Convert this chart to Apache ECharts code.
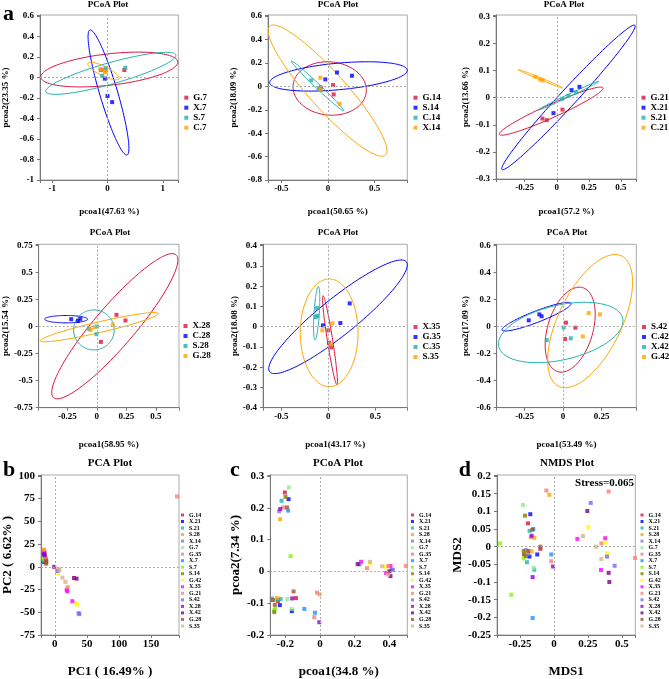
<!DOCTYPE html>
<html><head><meta charset="utf-8">
<script src="https://cdn.jsdelivr.net/npm/echarts@6/dist/echarts.min.js"></script>
<style>html,body{margin:0;padding:0;background:#fff}#c{width:669px;height:679px}</style>
</head><body><div id="c"></div>
<script>
// ---------------- DATA ----------------
const groups7 = ['G.7','X.7','S.7','C.7'];
const pts7 = [
 ['G.7',0.305,0.073],['G.7',-0.12,0.075],['G.7',-0.04,0.07],
 ['X.7',-0.048,-0.011],['X.7',0.0,-0.18],['X.7',0.084,-0.24],
 ['S.7',0.323,0.096],['S.7',-0.096,0.018],['S.7',-0.036,0.089],
 ['C.7',-0.126,0.083],['C.7',-0.048,0.063],['C.7',-0.036,0.05]
];
const ell7 = [
 ['G.7',0.033,0.078,1.237,0.076,0.032,-0.152],
 ['X.7',0.018,-0.146,0.335,-0.61,0.155,0.025],
 ['S.7',0.06,0.041,1.174,0.179,0.051,-0.100],
 ['C.7',-0.072,0.063,0.281,-0.075,-0.037,-0.041]
];

const groups14 = ['G.14','S.14','C.14','X.14'];
const pts14 = [
 ['G.14',0.054,0.011],['G.14',0.061,-0.069],['G.14',-0.079,-0.009],
 ['S.14',0.096,0.119],['S.14',0.257,0.091],['S.14',-0.029,0.06],
 ['C.14',-0.179,0.051],['C.14',-0.096,-0.017],['C.14',-0.08,-0.03],
 ['X.14',-0.082,0.074],['X.14',-0.082,-0.026],['X.14',0.125,-0.149]
];
const ell14 = [
 ['G.14',0.018,-0.018,0.393,-0.014,0,-0.228],
 ['S.14',0.1125,0.085,0.7375,0.054,0.013,-0.113],
 ['C.14',-0.1125,0.004,0.28,-0.212,0.017,0.0145],
 ['X.14',-0.005,-0.036,0.62,-0.551,0.146,0.104]
];

const groups21 = ['G.21','X.21','S.21','C.21'];
const pts21 = [
 ['G.21',-0.112,-0.077],['G.21',-0.078,-0.083],['G.21',0.044,-0.044],
 ['X.21',-0.026,-0.057],['X.21',0.115,0.028],['X.21',0.177,0.04],
 ['S.21',0.04,-0.004],['S.21',0.09,0.007],['S.21',0.15,0.02],
 ['C.21',-0.167,0.077],['C.21',-0.128,0.067],['C.21',-0.109,0.064]
];
const ell21 = [
 ['G.21',-0.044,-0.0497,0.404,0.0859,0.0214,-0.0223],
 ['X.21',0.091,0.001,0.518,0.266,0.048,-0.0207],
 ['S.21',0.092,0.0074,0.236,0.053,0.0044,-0.0044],
 ['C.21',-0.128,0.0699,0.174,-0.0337,-0.003,-0.0034]
];

const groups28 = ['X.28','C.28','S.28','G.28'];
const pts28 = [
 ['X.28',0.166,0.108],['X.28',0.242,0.056],['X.28',0.034,-0.142],
 ['C.28',-0.217,0.068],['C.28',-0.16,0.052],['C.28',-0.14,0.071],
 ['S.28',-0.065,-0.022],['S.28',0.0,0.0],['S.28',-0.003,-0.071],
 ['G.28',-0.053,-0.031],['G.28',-0.02,-0.006],['G.28',0.135,0.0185]
];
const ell28 = [
 ['X.28',0.152,0.003,0.518,0.66,0.128,-0.121],
 ['C.28',-0.26,0.068,0.1815,0,0,-0.034],
 ['S.28',-0.025,-0.031,0.172,0,0,-0.185],
 ['G.28',0.021,-0.006,0.5,0.1265,0.0101,-0.048]
];

const groups35 = ['X.35','G.35','C.35','S.35'];
const pts35 = [
 ['X.35',0.0,-0.018],['X.35',0.007,-0.079],['X.35',0.032,-0.102],
 ['G.35',-0.057,0.0066],['G.35',0.128,0.018],['G.35',0.227,0.115],
 ['C.35',-0.12,0.092],['C.35',-0.135,0.048],['C.35',-0.117,0.054],
 ['S.35',-0.064,-0.018],['S.35',0.043,0.0165],['S.35',0.028,-0.087]
];
const ell35 = [
 ['X.35',0.018,-0.0675,0.0745,-0.2206,0.028,0.002],
 ['G.35',0.103,0.049,0.727,0.2716,0.122,-0.0705],
 ['C.35',-0.124,0.0658,0.0177,0.1317,0.028,0],
 ['S.35',0.009,-0.030,0.307,0,0,-0.266]
];

const groups42 = ['S.42','C.42','X.42','G.42'];
const pts42 = [
 ['S.42',0.019,0.0296],['S.42',0.08,-0.0074],['S.42',0.013,-0.091],
 ['C.42',-0.223,0.047],['C.42',-0.154,0.091],['C.42',-0.139,0.077],
 ['X.42',0.004,-0.0074],['X.42',0.05,-0.086],['X.42',-0.106,-0.099],
 ['G.42',0.167,0.101],['G.42',0.24,0.091],['G.42',0.128,-0.072]
];
const ell42 = [
 ['S.42',0.0465,-0.022,0.081,0.311,0.141,-0.048],
 ['C.42',-0.172,0.074,0.224,0.0988,0.0132,-0.039],
 ['X.42',-0.015,-0.043,0.4026,0.105,0.0396,-0.1975],
 ['G.42',0.176,0.041,0.2,0.485,0.19,-0.09]
];

const groupsAll = ['G.14','X.21','S.21','S.28','X.14','G.7','G.35','X.7','S.7','S.14','G.42','X.35','G.21','S.42','X.28','X.42','G.28','S.35'];

const ptsPCA = [
 ['G.14',-17.5,8],['G.14',-16.8,6],['G.14',-17.2,10],
 ['X.21',-17.8,7],['X.21',-17,5.5],['X.21',-16.5,8.5],
 ['S.21',-17.5,9],['S.21',-16,7],['S.21',-17.8,11],
 ['S.28',-17,19],['S.28',-17.2,17.5],['S.28',-16.5,15],
 ['X.14',-17.2,12],['X.14',-16.8,10.5],['X.14',-17.6,9.5],
 ['G.7',-16.5,12],['G.7',-17,14],['G.7',-16,11],
 ['G.35',190.5,77.4],['G.35',-15.5,15.5],['G.35',-16.6,16.8],
 ['X.7',-17.8,8.5],['X.7',-17.2,6.5],['X.7',-16.8,7.5],
 ['S.7',-16.8,9],['S.7',-17.3,10.5],['S.7',-16.2,8],
 ['S.14',-13.2,6.5],['S.14',-13.8,7.5],['S.14',-14,8.8],
 ['G.42',5,-7.6],['G.42',33.4,-40.5],['G.42',34.8,-41.5],
 ['X.35',18.5,-25.3],['X.35',27.2,-37.8],['X.35',19.5,-27],
 ['G.21',6,-2.8],['G.21',20,-22.5],['G.21',-14.5,10],
 ['S.42',4,-4.6],['S.42',37,-51],['S.42',38.2,-52],
 ['X.28',-17.2,13.5],['X.28',-16.8,14.5],['X.28',-15.8,12.8],
 ['X.42',-1,0],['X.42',29.8,-12.3],['X.42',33.9,-13.0],
 ['G.28',-14,5],['G.28',-13.5,3.5],['G.28',-13.8,6.2],
 ['S.35',11.8,-11.9],['S.35',16.4,-16.6],['S.35',7,-3.5]
];

const ptsPCoA = [
 ['G.14',-0.202,0.248],['G.14',-0.242,-0.093],['G.14',-0.138,-0.084],
 ['X.21',-0.181,0.227],['X.21',-0.231,-0.106],['X.21',-0.162,-0.125],
 ['S.21',-0.221,0.222],['S.21',-0.227,-0.087],['S.21',-0.245,-0.09],
 ['S.28',-0.229,0.164],['S.28',-0.248,-0.084],['S.28',-0.002,-0.072],
 ['X.14',-0.235,0.189],['X.14',-0.277,-0.085],['X.14',-0.27,-0.09],
 ['G.7',-0.179,0.264],['G.7',-0.188,-0.087],['G.7',-0.163,-0.118],
 ['G.35',-0.212,0.201],['G.35',-0.017,-0.067],['G.35',-0.033,-0.144],
 ['X.7',-0.183,0.191],['X.7',-0.09,-0.118],['X.7',-0.029,-0.13],
 ['S.7',-0.169,0.048],['S.7',-0.263,-0.122],['S.7',-0.258,-0.115],
 ['S.14',-0.198,0.234],['S.14',-0.273,-0.09],['S.14',-0.263,-0.128],
 ['G.42',0.29,0.025],['G.42',0.395,0.0],['G.42',0.38,0.015],
 ['X.35',0.237,0.03],['X.35',0.406,0.017],['X.35',0.381,-0.005],
 ['G.21',0.271,0.01],['G.21',0.394,0.017],['G.21',0.494,0.017],
 ['S.42',0.228,0.022],['S.42',0.412,0.005],['S.42',0.42,0.005],
 ['X.28',-0.229,0.196],['X.28',-0.16,-0.085],['X.28',-0.004,-0.16],
 ['X.42',0.217,0.023],['X.42',0.406,-0.015],['X.42',0.40,0.0],
 ['G.28',-0.19,0.201],['G.28',-0.152,-0.063],['G.28',-0.26,-0.105],
 ['S.35',0.288,0.03],['S.35',0.358,0.016],['S.35',0.392,-0.01]
];

const ptsNMDS = [
 ['G.14',-0.191,0.066],['G.14',-0.1,-0.006],['G.14',-0.22,-0.022],
 ['X.21',-0.174,0.092],['X.21',-0.123,-0.022],['X.21',-0.18,-0.028],
 ['S.21',-0.179,0.045],['S.21',-0.199,-0.044],['S.21',-0.145,-0.065],
 ['S.28',-0.145,0.025],['S.28',-0.034,0.147],['S.28',-0.165,-0.013],
 ['X.14',-0.206,-0.01],['X.14',-0.2,-0.012],['X.14',-0.19,-0.02],
 ['G.7',-0.228,0.118],['G.7',-0.2,-0.013],['G.7',-0.15,-0.06],
 ['G.35',-0.17,0.027],['G.35',-0.056,0.159],['G.35',-0.02,-0.041],
 ['X.7',-0.152,0.05],['X.7',-0.02,-0.022],['X.7',-0.157,-0.202],
 ['S.7',-0.397,0.009],['S.7',-0.223,-0.033],['S.7',-0.314,-0.136],
 ['S.14',-0.213,0.088],['S.14',-0.223,-0.012],['S.14',-0.206,-0.027],
 ['G.42',0.252,0.056],['G.42',0.38,0.012],['G.42',0.39,-0.018],
 ['X.35',0.172,0.022],['X.35',0.377,0.024],['X.35',0.346,-0.066],
 ['G.21',0.402,0.156],['G.21',0.348,0.009],['G.21',0.596,-0.032],
 ['S.42',0.27,0.124],['S.42',0.39,-0.028],['S.42',0.446,-0.054],
 ['X.28',-0.164,0.031],['X.28',-0.157,-0.086],['X.28',-0.007,-0.056],
 ['X.42',0.245,0.101],['X.42',0.402,-0.074],['X.42',0.407,-0.1],
 ['G.28',-0.159,0.048],['G.28',-0.1,0.0],['G.28',-0.19,-0.012],
 ['S.35',0.213,0.03],['S.35',0.309,0.0],['S.35',0.348,-0.035]
];

// ---------------- STYLE ----------------
const FONT = '"Liberation Serif","Times New Roman",serif';
const C4 = ['#DC143C','#0000FF','#20B2AA','#FFA500'];
const C18 = {
 'G.14':'#DC143C','X.21':'#0000FF','S.21':'#20B2AA','S.28':'#FFA500','X.14':'#9370DB',
 'G.7':'#90EE90','G.35':'#F08080','X.7':'#1E90FF','S.7':'#7CFC00','S.14':'#808000',
 'G.42':'#FFFF00','X.35':'#FF00FF','G.21':'#FA8072','S.42':'#7B68EE','X.28':'#9400D3',
 'X.42':'#800080','G.28':'#A0522D','S.35':'#D2B48C'
};

const panels = [
 {k:'a1',g:[39.3,15,139,165],x:[-1.22,1.28,1],y:[-1,0.61,0.2],groups:groups7,pts:pts7,ell:ell7,
  xn:'pcoa1(47.63 %)',yn:'pcoa2(23.35 %)',xg:27,yg:30,lg:[184.3,92.7],t:'PCoA Plot',tp:[108,5]},
 {k:'a2',g:[268,15,139.3,165],x:[-0.643,0.85,0.5],y:[-0.8,0.61,0.2],groups:groups14,pts:pts14,ell:ell14,
  xn:'pcoa1(50.65 %)',yn:'pcoa2(18.09 %)',xg:27,yg:30,lg:[413.5,92.7],t:'PCoA Plot',tp:[338,5]},
 {k:'a3',g:[496,15,140.7,164],x:[-0.474,0.623,0.25],y:[-0.3,0.305,0.1],groups:groups21,pts:pts21,ell:ell21,
  xn:'pcoa1(57.2 %)',yn:'pcoa2(13.66 %)',xg:28,yg:26,lg:[641.5,92.7],t:'PCoA Plot',tp:[564,5]},
 {k:'a4',g:[38.3,244.3,140.7,163.4],x:[-0.4925,0.695,0.25],y:[-0.75,0.76,0.25],groups:groups28,pts:pts28,ell:ell28,
  xn:'pcoa1(58.95 %)',yn:'pcoa2(15.54 %)',xg:32,yg:28,lg:[183.5,321],t:'PCoA Plot',tp:[110,233]},
 {k:'a5',g:[263,244.3,144.3,163.4],x:[-0.695,0.84,0.5],y:[-0.4,0.407,0.1],groups:groups35,pts:pts35,ell:ell35,
  xn:'pcoa1(43.17 %)',yn:'pcoa2(18.08 %)',xg:32,yg:23,lg:[413.5,322],t:'PCoA Plot',tp:[338,233]},
 {k:'a6',g:[496.7,244.3,139.6,163.4],x:[-0.431,0.476,0.25],y:[-0.6,0.61,0.2],groups:groups42,pts:pts42,ell:ell42,
  xn:'pcoa1(53.49 %)',yn:'pcoa2(17.09 %)',xg:32,yg:27,lg:[642,322],t:'PCoA Plot',tp:[567,233]},
 {k:'b',g:[39.3,475,139.7,161],x:[-21.6,193.6,50],y:[-75,101,25],groups:groupsAll,pts:ptsPCA,big:true,
  xn:'PC1 ( 16.49% )',yn:'PC2 ( 6.62% )',xg:30,yg:27,lg:[181,511.7],t:'PCA Plot',tp:[110,463]},
 {k:'c',g:[270.3,475,137,160],x:[-0.286,0.503,0.2],y:[-0.2,0.303,0.1],groups:groupsAll,pts:ptsPCoA,big:true,
  xn:'pcoa1(34.8 %)',yn:'pcoa2(7.34 %)',xg:30,yg:28,lg:[411,511.7],t:'PCoA Plot',tp:[338,463]},
 {k:'d',g:[497,475,138.3,160],x:[-0.419,0.598,0.25],y:[-0.25,0.203,0.05],groups:groupsAll,pts:ptsNMDS,big:true,
  xn:'MDS1',yn:'MDS2',xg:30,yg:28,lg:[640.5,511.7],t:'NMDS Plot',tp:[567,463]}
];

function fmt(step){
 return function(v){
  const k = v/step;
  if (Math.abs(k-Math.round(k))>1e-6) return '';
  const s = +(Math.round(k)*step).toFixed(4);
  return String(s===0?0:s);
 };
}

const grid=[], xAxis=[], yAxis=[], series=[], legend=[], graphic=[];
panels.forEach((p,i)=>{
 const big=!!p.big;
 const lab=big?11:9, nameFs=big?13:9;
 grid.push({left:p.g[0],top:p.g[1],width:p.g[2],height:p.g[3],show:true,borderColor:'#aaa',borderWidth:1});
 const axCommon=(r)=>({gridIndex:i,type:'value',min:r[0],max:r[1],minInterval:r[2],maxInterval:r[2],
  splitLine:{show:false},
  axisLine:{show:true,onZero:false,lineStyle:{color:'#777',width:1}},
  axisTick:{show:true,length:3,lineStyle:{color:'#777'}},
  axisLabel:{formatter:fmt(r[2]),fontFamily:FONT,fontWeight:'bold',fontSize:lab,color:'#000',showMinLabel:true,showMaxLabel:true},
  nameLocation:'middle',nameTextStyle:{fontFamily:FONT,fontWeight:'bold',fontSize:nameFs,color:'#000'}});
 const xa=axCommon(p.x); xa.name=p.xn; xa.nameGap=p.xg; xa.axisLabel.margin=4; xa.position='bottom';
 const ya=axCommon(p.y); ya.name=p.yn; ya.nameGap=p.yg; ya.axisLabel.margin=6; ya.position='left';
 xAxis.push(xa); yAxis.push(ya);
 // ellipses
 if (p.ell){
  series.push({type:'custom',xAxisIndex:i,yAxisIndex:i,silent:true,clip:true,z:2,animation:false,
   data:p.ell.map(e=>[e[1],e[2],e[3],e[4],e[5],e[6],p.groups.indexOf(e[0])]),
   encode:{x:0,y:1},
   renderItem:(params,api)=>{
    const cx=api.value(0),cy=api.value(1),ax=api.value(2),ay=api.value(3),bx=api.value(4),by=api.value(5);
    const col=C4[api.value(6)];
    const pts=[];
    for(let k=0;k<=120;k++){
     const t=2*Math.PI*k/120, c=Math.cos(t), s=Math.sin(t);
     pts.push(api.coord([cx+ax*c+bx*s, cy+ay*c+by*s]));
    }
    return {type:'polyline',shape:{points:pts},style:{fill:null,stroke:col,lineWidth:1}};
   }});
 }
 // scatter
 p.groups.forEach((gname,gi)=>{
  const col = big ? C18[gname] : C4[gi];
  const s={type:'scatter',name:p.k+'|'+gname,xAxisIndex:i,yAxisIndex:i,symbol:'rect',symbolSize:4,
   silent:true,z:3,animation:false,itemStyle:{color:col},
   data:p.pts.filter(q=>q[0]===gname).map(q=>[q[1],q[2]])};
  if(gi===0){
   s.markLine={silent:true,symbol:'none',animation:false,label:{show:false},
    lineStyle:{color:'#aaa',type:[2,2],width:1},data:[{xAxis:0},{yAxis:0}]};
  }
  series.push(s);
 });
 legend.push({orient:'vertical',left:p.lg[0],top:p.lg[1],padding:0,itemGap:0,
  itemWidth:big?3:4,itemHeight:big?3:4,icon:'rect',selectedMode:false,
  data:p.groups.map(g=>p.k+'|'+g),formatter:n=>n.split('|')[1],
  textStyle:{fontFamily:FONT,fontWeight:'bold',fontSize:big?6:9,lineHeight:big?6.53:10,color:'#000'}});
 graphic.push({type:'text',x:p.tp[0],y:p.tp[1],silent:true,
  style:{text:p.t,align:'center',verticalAlign:'middle',fill:'#000',font:'bold '+(big?11:9)+'px '+FONT}});
});
[['a',3,14.3],['b',3,470.6],['c',230,470.6],['d',458.7,470.6]].forEach(l=>{
 graphic.push({type:'text',x:l[1],y:l[2],silent:true,
  style:{text:l[0],align:'left',verticalAlign:'middle',fill:'#000',font:'bold 22px '+FONT}});
});
graphic.push({type:'text',x:634,y:482.7,silent:true,
 style:{text:'Stress=0.065',align:'right',verticalAlign:'middle',fill:'#000',font:'bold 11px '+FONT}});

const chart=echarts.init(document.getElementById('c'),null,{renderer:'canvas'});
chart.setOption({animation:false,backgroundColor:'#fff',grid,xAxis,yAxis,series,legend,graphic});
</script></body></html>
